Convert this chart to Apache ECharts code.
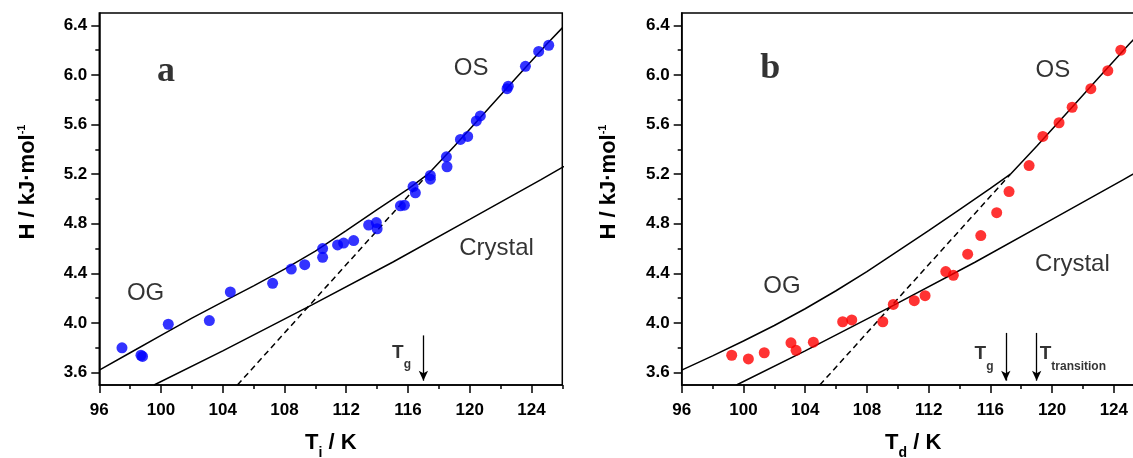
<!DOCTYPE html>
<html><head><meta charset="utf-8">
<script src="https://cdn.jsdelivr.net/npm/echarts@6/dist/echarts.min.js"></script>
<style>html,body{margin:0;padding:0;background:#fff}#c{width:1133px;height:458px}</style>
</head><body><div id="c"></div>
<script>
// ---- tick values ----
const TICKS_X = [96, 100, 104, 108, 112, 116, 120, 124];
const MINOR_X = [98, 102, 106, 110, 114, 118, 122, 126];
const TICKS_Y = [3.6, 4.0, 4.4, 4.8, 5.2, 5.6, 6.0, 6.4];
const MINOR_Y = [3.8, 4.2, 4.6, 5.0, 5.4, 5.8, 6.2];

// ---- panel a: T_i / H ----
const tiA = [97.47, 98.70, 98.80, 100.47, 103.13, 104.49, 107.23, 108.44, 109.31, 110.47, 110.47, 111.44, 111.83, 112.48, 113.45, 113.95, 114.00, 115.51, 115.77, 116.33, 116.48, 117.45, 117.45, 118.49, 118.53, 119.40, 119.87, 120.43, 120.69, 122.42, 122.50, 123.61, 124.47, 125.12];
const hA  = [3.80, 3.74, 3.73, 3.99, 4.02, 4.25, 4.32, 4.435, 4.47, 4.53, 4.60, 4.63, 4.645, 4.665, 4.79, 4.81, 4.76, 4.945, 4.95, 5.10, 5.05, 5.19, 5.16, 5.34, 5.26, 5.48, 5.505, 5.63, 5.67, 5.89, 5.91, 6.07, 6.19, 6.24];

// ---- panel b: T_d / H ----
const tdB = [99.24, 100.32, 101.35, 103.08, 103.41, 104.53, 106.43, 107.02, 109.03, 109.71, 111.07, 111.77, 113.11, 113.60, 114.53, 115.38, 116.41, 117.21, 118.51, 119.40, 120.45, 121.30, 122.51, 123.61, 124.45];
const hB  = [3.74, 3.71, 3.76, 3.84, 3.78, 3.845, 4.01, 4.025, 4.01, 4.15, 4.18, 4.22, 4.415, 4.385, 4.555, 4.705, 4.89, 5.06, 5.27, 5.505, 5.615, 5.74, 5.89, 6.035, 6.20];

// ---- model curves ----
const ogTa = [96, 98, 100, 102, 104, 106, 108, 110, 112, 114, 116, 117.3];
const ogHa = [3.62, 3.76, 3.90, 4.04, 4.17, 4.30, 4.435, 4.58, 4.745, 4.915, 5.08, 5.20];
const ogTb = [96, 98, 100, 102, 104, 106, 108, 110, 112, 114, 116, 117.3];
const ogHb = [3.62, 3.735, 3.855, 3.98, 4.115, 4.26, 4.415, 4.58, 4.745, 4.915, 5.085, 5.20];
const osT = [117.3, 119, 121, 123, 125, 126];
const osH = [5.20, 5.425, 5.70, 5.975, 6.25, 6.38];
const dashT = [104.95, 117.3];
const dashH = [3.5, 5.2];
const crT = [99.55, 104, 109.78, 115, 120, 124.62, 126, 127];
const crH = [3.5, 3.775, 4.146, 4.49, 4.835, 5.156, 5.255, 5.32];

// ---- arrows (T position) ----
const arrowsA = [117];
const arrowsB = [117, 119];

const SANS = "'Liberation Sans', Arial, sans-serif";
const SERIF = "'Liberation Serif', 'Times New Roman', serif";
const BLACK = '#000';

const grids = [
  { left: 99.3, top: 13, width: 463, height: 372 },
  { left: 681.7, top: 13, width: 463, height: 372 }
];

function zip(a, b) { return a.map((v, k) => [v, b[k]]); }

const xNames = ['{t|T}{s|i}{t| / K}', '{t|T}{s|d}{t| / K}'];
const xAxes = [], yAxes = [];
[0, 1].forEach(i => {
  xAxes.push({
    gridIndex: i, type: 'value', min: 96, max: 126, position: 'bottom',
    axisLine: { show: true, onZero: false, lineStyle: { color: BLACK, width: 1.5 } },
    axisTick: { show: true, inside: false, length: 8, customValues: TICKS_X, lineStyle: { color: BLACK, width: 1.5 } },
    axisLabel: { show: true, customValues: TICKS_X, margin: 17, fontSize: 17, fontWeight: 'bold', color: BLACK, fontFamily: SANS },
    splitLine: { show: false },
    name: xNames[i], nameLocation: 'middle', nameGap: 47,
    nameTextStyle: {
      fontFamily: SANS, color: BLACK,
      rich: {
        t: { fontSize: 22, fontWeight: 'bold', fontFamily: SANS, color: BLACK, lineHeight: 26, verticalAlign: 'top' },
        s: { fontSize: 14, fontWeight: 'bold', fontFamily: SANS, color: BLACK, lineHeight: 42, verticalAlign: 'middle' }
      }
    }
  });
  xAxes.push({
    gridIndex: i, type: 'value', min: 96, max: 126, position: 'bottom',
    axisLine: { show: true, onZero: false, lineStyle: { color: 'rgba(0,0,0,0)', width: 1 } },
    axisTick: { show: true, inside: false, length: 4, customValues: MINOR_X, lineStyle: { color: BLACK, width: 1.5 } },
    axisLabel: { show: false }, splitLine: { show: false }
  });
  yAxes.push({
    gridIndex: i, type: 'value', min: 3.5, max: 6.5, position: 'left',
    axisLine: { show: true, onZero: false, lineStyle: { color: BLACK, width: 1.5 } },
    axisTick: { show: true, inside: false, length: 8, customValues: TICKS_Y, lineStyle: { color: BLACK, width: 1.5 } },
    axisLabel: { show: true, customValues: TICKS_Y, margin: 12, fontSize: 17, fontWeight: 'bold', color: BLACK, fontFamily: SANS,
      formatter: v => Number(v).toFixed(1) },
    splitLine: { show: false },
    name: '{m|H / kJ·mol}{s|-1}', nameLocation: 'middle', nameGap: i === 0 ? 59 : 60.5,
    nameTextStyle: {
      fontFamily: SANS, color: BLACK, padding: [0, 0, 0, 34],
      rich: {
        m: { fontSize: 22, fontWeight: 'bold', fontFamily: SANS, color: BLACK, lineHeight: 24, verticalAlign: 'middle' },
        s: { fontSize: 11, fontWeight: 'bold', fontFamily: SANS, color: BLACK, lineHeight: 16, verticalAlign: 'top' }
      }
    }
  });
  yAxes.push({
    gridIndex: i, type: 'value', min: 3.5, max: 6.5, position: 'left',
    axisLine: { show: true, onZero: false, lineStyle: { color: 'rgba(0,0,0,0)', width: 1 } },
    axisTick: { show: true, inside: false, length: 4, customValues: MINOR_Y, lineStyle: { color: BLACK, width: 1.5 } },
    axisLabel: { show: false }, splitLine: { show: false }
  });
});

const labelRich = {
  L: { fontSize: 36, fontWeight: 'bold', fontFamily: SERIF, color: BLACK },
  n: { fontSize: 24, fontFamily: SANS, color: BLACK },
  T: { fontSize: 19, fontWeight: 'bold', fontFamily: SANS, color: BLACK, lineHeight: 20, verticalAlign: 'top' },
  s: { fontSize: 12, fontWeight: 'bold', fontFamily: SANS, color: BLACK, lineHeight: 44, verticalAlign: 'middle' }
};

// annotation positions (data coords)
const notes = [
  [
    { t: '{L|a}', x: 100.36, y: 6.025, a: 'center', v: 'middle' },
    { t: '{n|OS}', x: 120.12, y: 6.05, a: 'center', v: 'middle' },
    { t: '{n|OG}', x: 99.03, y: 4.237, a: 'center', v: 'middle' },
    { t: '{n|Crystal}', x: 121.77, y: 4.60, a: 'center', v: 'middle' },
    { t: '{T|T}{s|g}', x: 115.0, y: 3.835, a: 'left', v: 'top' }
  ],
  [
    { t: '{L|b}', x: 101.77, y: 6.05, a: 'center', v: 'middle' },
    { t: '{n|OS}', x: 120.08, y: 6.036, a: 'center', v: 'middle' },
    { t: '{n|OG}', x: 102.53, y: 4.295, a: 'center', v: 'middle' },
    { t: '{n|Crystal}', x: 121.35, y: 4.47, a: 'center', v: 'middle' },
    { t: '{T|T}{s|g}', x: 115.01, y: 3.825, a: 'left', v: 'top' },
    { t: '{T|T}{s|transition}', x: 119.23, y: 3.825, a: 'left', v: 'top' }
  ]
];
const arrowTop = [3.90, 3.92];

const series = [];
[0, 1].forEach(i => {
  const ax = { xAxisIndex: 2 * i, yAxisIndex: 2 * i };
  const ln = (T, H, dashed) => Object.assign({
    type: 'line', data: zip(T, H), symbol: 'none', showSymbol: false, silent: true, z: 2, clip: true,
    lineStyle: { color: BLACK, width: 1.5, type: dashed ? [6, 4] : 'solid' }
  }, ax);
  series.push(i === 0 ? ln(ogTa, ogHa, false) : ln(ogTb, ogHb, false));
  series.push(ln(osT, osH, false));
  series.push(ln(dashT, dashH, true));
  series.push(ln(crT, crH, false));
  series.push(Object.assign({
    type: 'scatter', symbol: 'circle', symbolSize: 11, z: 5,
    itemStyle: { color: i === 0 ? '#0000ff' : '#ff0000' },
    data: i === 0 ? zip(tiA, hA) : zip(tdB, hB)
  }, ax));
  series.push(Object.assign({
    type: 'scatter', symbolSize: 1, z: 6, silent: true,
    itemStyle: { color: 'rgba(0,0,0,0)' },
    data: notes[i].map(n => ({
      value: [n.x, n.y],
      label: { show: true, color: BLACK, position: [0, 0], align: n.a, verticalAlign: n.v, formatter: n.t, rich: labelRich }
    })),
    markLine: {
      silent: true, symbol: ['none', 'arrow'], symbolSize: [7, 10], animation: false,
      label: { show: false },
      lineStyle: { color: BLACK, width: 1.3, type: 'solid' },
      data: (i === 0 ? arrowsA : arrowsB).map(t => [{ coord: [t, arrowTop[i]] }, { coord: [t, 3.535] }])
    }
  }, ax));
});

const chart = echarts.init(document.getElementById('c'), null, { renderer: 'canvas' });
chart.setOption({
  animation: false,
  backgroundColor: '#fff',
  grid: grids.map(g => Object.assign({
    show: true, borderColor: BLACK, borderWidth: 1.5, backgroundColor: 'transparent',
    containLabel: false, outerBoundsMode: 'none'
  }, g)),
  xAxis: xAxes,
  yAxis: yAxes,
  series: series
});
</script></body></html>
